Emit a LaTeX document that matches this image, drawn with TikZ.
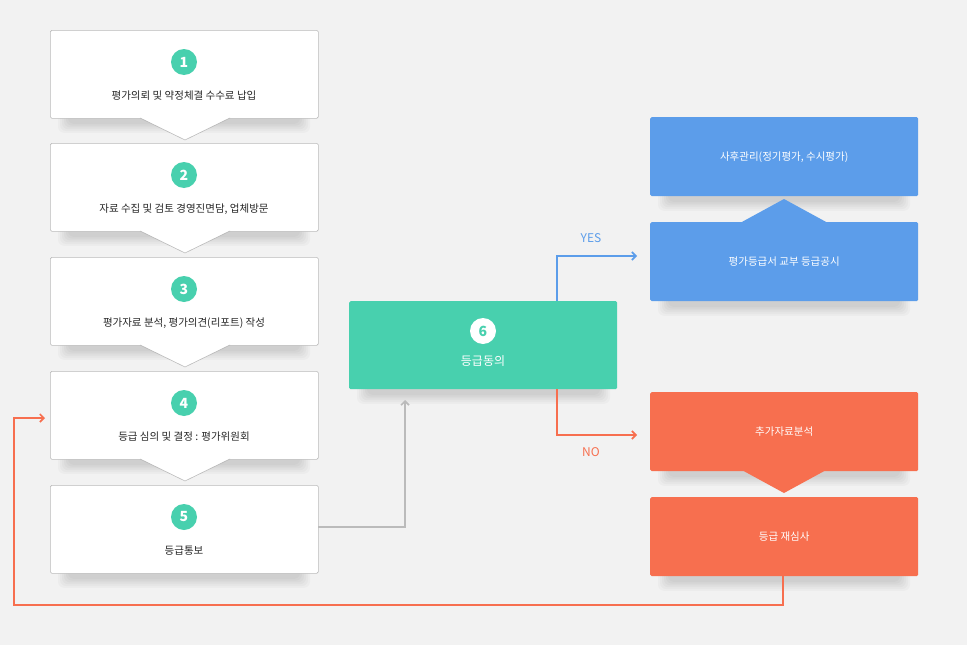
\documentclass[tikz,border=0pt]{standalone}
\usepackage{fontspec}
\setmainfont{Noto Sans CJK KR}
\usetikzlibrary{arrows.meta}
\definecolor{bg}{HTML}{F2F2F2}
\definecolor{gr}{HTML}{48D0AE}
\definecolor{bl}{HTML}{5C9DEA}
\definecolor{orr}{HTML}{F76F4F}
\definecolor{ln}{HTML}{BBBBBB}
\newcommand{\softsh}[4]{\foreach \k in {1,...,6}{\fill[black,opacity=0.025,rounded corners=6pt] (#1+20-\k*2,#2+10-\k*1.5) rectangle (#3-20+\k*2,#4+4+\k*1.8);}}
\tikzset{x=1pt,y=-1pt,
 wbox/.style={draw=ln,fill=white,line width=0.6pt,rounded corners=1.5pt,minimum width=268pt,minimum height=88pt,anchor=north west},
 cbox/.style={fill=#1,rounded corners=1.5pt,minimum width=268pt,minimum height=79pt,anchor=north west,text=white,font=\fontsize{10.5}{12}\selectfont},
 num/.style={circle,fill=gr,text=white,minimum size=26pt,inner sep=0pt,font=\fontsize{14}{14}\selectfont\bfseries},
 lab/.style={font=\fontsize{10.5}{12}\selectfont,text=black!85},
 conn/.style={line width=1.6pt,-{Straight Barb[length=4pt,width=8pt]}}}
\begin{document}
\begin{tikzpicture}
\fill[bg] (0,0) rectangle (967,645);
\useasboundingbox (0,0) rectangle (967,645);
\foreach \y in {30,143,257,371,485}{\softsh{50}{\y}{318}{\y+88}}
\softsh{349}{301}{618}{389}
\foreach \y in {117,222,392,497}{\softsh{650}{\y}{918}{\y+79}}
\foreach \i/\y/\t in {1/30/평가의뢰 및 약정체결 수수료 납입,2/143/자료 수집 및 검토 경영진면담{,} 업체방문,3/257/평가자료 분석{,} 평가의견(리포트) 작성,4/371/등급 심의 및 결정 : 평가위원회,5/485/등급통보}{
 \node[wbox] (b\i) at (50,\y) {};
 \node[num] (n\i) at (184,\y+32) {\i};
 \node[lab] (t\i) at (184,\y+66) {\t};
}
\foreach \y in {118,231,345,459}{
 \fill[white] (140,\y-0.5) -- (230,\y-0.5) -- (185,\y+22) -- cycle;
 \draw[ln,line width=0.6pt] (140,\y) -- (185,\y+22) -- (230,\y);
}
\node[cbox=gr,minimum height=88pt] (g6) at (349,301) {};
\node[circle,fill=white,text=gr,minimum size=26pt,inner sep=0pt,font=\fontsize{14}{14}\selectfont\bfseries] (n6) at (483,331) {6};
\node[text=white,font=\fontsize{12}{14}\selectfont] (t6) at (483,361) {등급동의};
\node[cbox=bl] (u1) at (650,117) {사후관리(정기평가{,} 수시평가)};
\node[cbox=bl] (u2) at (650,222) {평가등급서 교부 등급공시};
\fill[bl] (740,223) -- (784,199) -- (828,223) -- cycle;
\node[cbox=orr] (o1) at (650,392) {추가자료분석};
\node[cbox=orr] (o2) at (650,497) {등급 재심사};
\fill[orr] (740,469) -- (784,493) -- (828,469) -- cycle;
\coordinate (yb) at (557,301); \coordinate (ye) at (637,256);
\draw[conn,bl] (yb) |- (ye);
\node[text=bl,font=\fontsize{12}{14}\selectfont] (yes) at (591,238) {YES};
\coordinate (nb) at (557,389); \coordinate (ne) at (637,435);
\draw[conn,orr] (nb) |- (ne);
\node[text=orr,font=\fontsize{12}{14}\selectfont] (no) at (591,452) {NO};
\coordinate (ga) at (318,527); \coordinate (gb) at (405,527); \coordinate (gc) at (405,400);
\draw[conn,ln] (ga) -- (gb) -- (gc);
\coordinate (la) at (783,575); \coordinate (lb) at (783,605); \coordinate (lc) at (14,605); \coordinate (ld) at (14,418); \coordinate (le) at (45,418);
\draw[conn,orr] (la) -- (lb) -- (lc) -- (ld) -- (le);
\end{tikzpicture}
\end{document}
